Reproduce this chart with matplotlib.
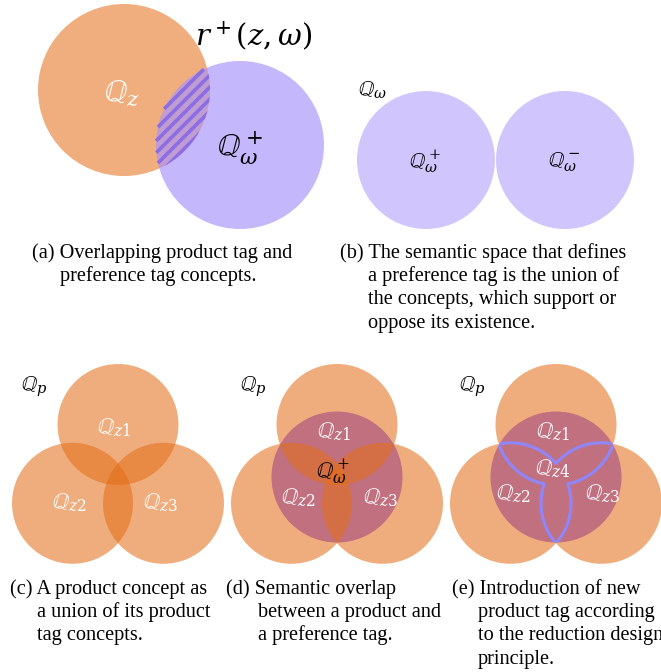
import numpy as np
import matplotlib
matplotlib.use('Agg')
import matplotlib.pyplot as plt
from matplotlib.patches import Circle

plt.rcParams['mathtext.fontset'] = 'dejavuserif'
plt.rcParams['font.family'] = ['Liberation Serif', 'DejaVu Serif']

# ---- diagram values (pixel units, y downwards) ----
# (a) product tag vs preference tag
a_tag_center, a_tag_r = (124, 90), 86
a_pref_center, a_pref_r = (240, 145), 84
# (b) support / oppose concepts
b_centers = [(426, 160), (565, 160)]
b_r = 69
# (c)-(e) three product tags around a product centre
prod_centroids = [118, 337, 556]
prod_cy = 477
tag_offsets = [(0, -52.5), (-45.5, 26.3), (45.5, 26.3)]
tag_r = 60.5
pref_r = 65.5

orange_solid = '#f0ae7e'
orange_base = '#e46d17'
orange_alpha = 0.556
lilac_b = '#d0c6fd'
stripe = '#8b6de6'

captions = [
    (32, 258, ['(a) Overlapping product tag and', 'preference tag concepts.'], 60),
    (340, 258, ['(b) The semantic space that defines', 'a preference tag is the union of',
                'the concepts, which support or', 'oppose its existence.'], 368),
    (10, 594, ['(c) A product concept as', 'a union of its product', 'tag concepts.'], 37),
    (226, 594, ['(d) Semantic overlap', 'between a product and', 'a preference tag.'], 258),
    (452, 594, ['(e) Introduction of new', 'product tag according',
                'to the reduction design', 'principle.'], 478),
]
line_gap = 23.2

fig = plt.figure(figsize=(6.61, 6.72), dpi=100)
ax = fig.add_axes([0, 0, 1, 1])
ax.set_xlim(0, 661)
ax.set_ylim(672, 0)
ax.axis('off')

# ---------- (a) ----------
tag_patch = Circle(a_tag_center, a_tag_r, color=orange_solid, lw=0)
ax.add_patch(tag_patch)
ax.add_patch(Circle(a_pref_center, a_pref_r, color='#a894fa', alpha=0.667, lw=0))
# diagonal stripes over the overlap
cx, cy = a_pref_center
d = np.array([1, -1]) / np.sqrt(2)
for k in np.arange(-400, 400, 12.0):
    p0 = np.array([cx, cy + k])
    rel = p0 - np.array([cx, cy])
    b = np.dot(rel, d)
    c = np.dot(rel, rel) - a_pref_r ** 2
    disc = b * b - c
    if disc <= 0:
        continue
    t1, t2 = -b - np.sqrt(disc), -b + np.sqrt(disc)
    seg = np.array([p0 + t1 * d, p0 + t2 * d])
    ln, = ax.plot(seg[:, 0], seg[:, 1], color=stripe, lw=2.6, solid_capstyle='butt')
    ln.set_clip_path(tag_patch)

ax.text(122, 94, r'$\mathbb{Q}_z$', color='white', fontsize=22, ha='center', va='center')
ax.text(240, 148, r'$\mathbb{Q}_\omega^+$', color='black', fontsize=22, ha='center', va='center')
ax.text(254, 36, r'$r^+(z,\omega)$', color='black', fontsize=21, ha='center', va='center')

# ---------- (b) ----------
for (x, y) in b_centers:
    ax.add_patch(Circle((x, y), b_r, color=lilac_b, lw=0))
ax.text(425, 162, r'$\mathbb{Q}_\omega^+$', fontsize=15, ha='center', va='center')
ax.text(564, 162, r'$\mathbb{Q}_\omega^-$', fontsize=15, ha='center', va='center')
ax.text(372, 90, r'$\mathbb{Q}_\omega$', fontsize=15, ha='center', va='center')

# ---------- (c)-(e) ----------
label_pos = {
    'c': [(114, 428), (69, 503), (160, 503)],
    'd': [(334, 432), (298, 498), (380, 498)],
    'e': [(553, 432), (513, 494), (602, 494)],
}
for i, gx in enumerate(prod_centroids):
    centers = [(gx + dx, prod_cy + dy) for dx, dy in tag_offsets]
    if i == 1:
        ax.add_patch(Circle((gx, prod_cy), pref_r, color='#9374ff', lw=0))
    for c in centers:
        ax.add_patch(Circle(c, tag_r, color=orange_base, alpha=orange_alpha, lw=0))
    if i == 2:
        pref = Circle((gx, prod_cy), pref_r, color='#c0707f', lw=0)
        ax.add_patch(pref)
        xs = np.linspace(gx - 80, gx + 80, 900)
        ys = np.linspace(prod_cy - 80, prod_cy + 80, 900)
        X, Y = np.meshgrid(xs, ys)
        dd = [np.hypot(X - c[0], Y - c[1]) - tag_r for c in centers]
        f = np.minimum(np.minimum(np.maximum(dd[0], dd[1]), np.maximum(dd[0], dd[2])),
                       np.maximum(dd[1], dd[2]))
        cs = ax.contour(X, Y, f, levels=[0], colors='#8f86fb', linewidths=2.2)
        cs.set_clip_path(pref)
    ax.text(gx - 84, 387, r'$\mathbb{Q}_p$', fontsize=15, ha='center', va='center')

for key in 'cde':
    for (x, y), n in zip(label_pos[key], ['z1', 'z2', 'z3']):
        ax.text(x, y, r'$\mathbb{Q}_{%s}$' % n, color='white', fontsize=16,
                ha='center', va='center')
ax.text(333, 472, r'$\mathbb{Q}_\omega^+$', color='black', fontsize=16, ha='center', va='center')
ax.text(553, 469, r'$\mathbb{Q}_{z4}$', color='white', fontsize=16, ha='center', va='center')

# ---------- captions ----------
for x0, y0, lines_, xi in captions:
    for j, t in enumerate(lines_):
        ax.text(x0 if j == 0 else xi, y0 + j * line_gap, t, fontsize=14.6,
                ha='left', va='baseline')

fig.savefig('out.png', dpi=100)
